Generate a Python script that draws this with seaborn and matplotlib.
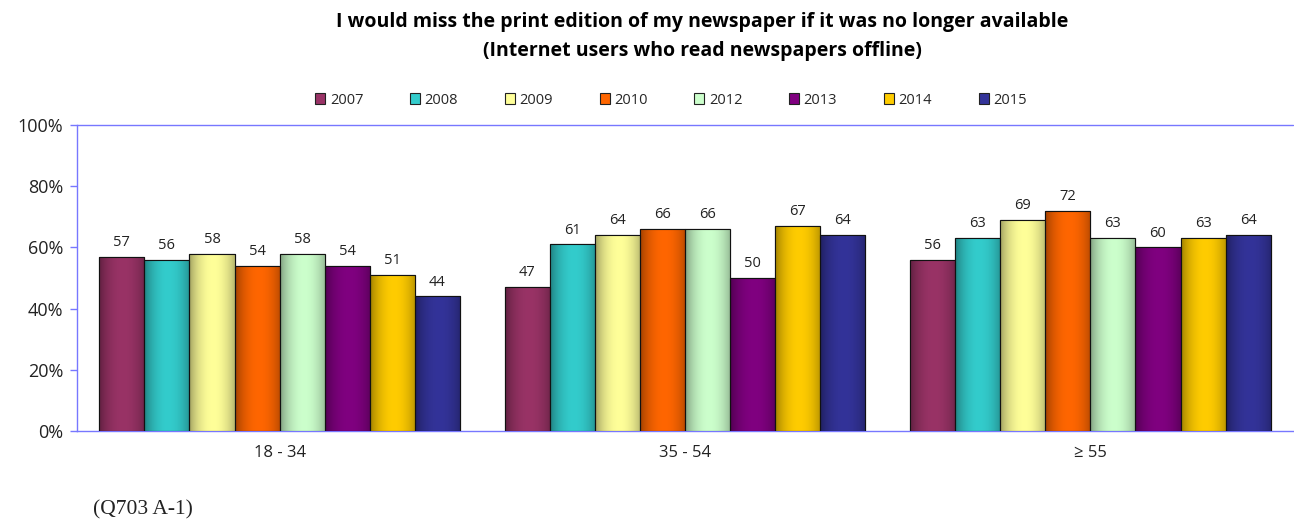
import numpy as np
import pandas as pd
import matplotlib
matplotlib.use("Agg")
import matplotlib.pyplot as plt
import seaborn as sns
from matplotlib.colors import to_rgb
from matplotlib.patches import Rectangle, Patch

groups = ["18 - 34", "35 - 54", "≥ 55"]
years = ["2007", "2008", "2009", "2010", "2012", "2013", "2014", "2015"]
v_18_34 = [57, 56, 58, 54, 58, 54, 51, 44]
v_35_54 = [47, 61, 64, 66, 66, 50, 67, 64]
v_55 = [56, 63, 69, 72, 63, 60, 63, 64]
colors = ["#993366", "#33CCCC", "#FFFF99", "#FF6600", "#CCFFCC", "#800080", "#FFCC00", "#333399"]

rows = []
for g, vals in zip(groups, [v_18_34, v_35_54, v_55]):
    for y, v in zip(years, vals):
        rows.append({"group": g, "year": y, "value": v})
df = pd.DataFrame(rows)

sns.set_style("white")
plt.rcParams['font.family'] = ['Open Sans', 'DejaVu Sans']

fig = plt.figure(figsize=(12.94, 5.23), dpi=100)
ax = fig.add_axes([77/1294, 1 - 431/523, (1293-77)/1294, (431-125)/523])

sns.barplot(data=df, x="group", y="value", hue="year", hue_order=years,
            palette=colors, width=0.89, ax=ax, edgecolor="black", linewidth=0.8,
            saturation=1, legend=False, zorder=3)

# gradient shading on bars
prof_x = np.linspace(0, 1, 64)
prof = 0.45 + 0.55 * np.clip(np.sin(np.pi * (prof_x * 0.85 + 0.05)) ** 0.6, 0, 1)
bars = list(ax.patches)
for p in bars:
    x0, y0 = p.get_x(), p.get_y()
    w, h = p.get_width(), p.get_height()
    if h <= 0:
        continue
    c = np.array(to_rgb(p.get_facecolor()))
    img = np.clip(c[None, None, :] * prof[None, :, None], 0, 1)
    im = ax.imshow(img, extent=[x0, x0 + w, y0, y0 + h], aspect="auto",
                   zorder=3.5, interpolation="bilinear")
    im.set_clip_path(p)
    ax.text(x0 + w / 2, h + 2.2, f"{int(round(h))}", ha="center", va="bottom",
            fontsize=10.5, color="#222222", zorder=5)
    ax.add_patch(Rectangle((x0, y0), w, h, fill=False, edgecolor="#111111",
                           linewidth=0.8, zorder=4))
ax.set_xlim(-0.5, 2.5)
ax.set_ylim(0, 100)

blue = "#7777FF"
ax.set_yticks([0, 20, 40, 60, 80, 100])
ax.set_yticklabels(["0%", "20%", "40%", "60%", "80%", "100%"], fontsize=13, color="#222222")
ax.tick_params(axis="y", left=True, direction="out", length=5, color=blue, width=1, pad=5)
ax.tick_params(axis="x", bottom=False, length=0, pad=10, labelsize=12, labelcolor="#222222")
ax.set_xlabel("")
ax.set_ylabel("")
for s in ["top", "right"]:
    ax.spines[s].set_visible(False)
for s in ["left", "bottom"]:
    ax.spines[s].set_color(blue)
    ax.spines[s].set_linewidth(1)
ax.axhline(100, color=blue, linewidth=1, zorder=2, clip_on=False)

# legend
handles = [Patch(facecolor=c, edgecolor="#222222", linewidth=0.8) for c in colors]
fig.legend(handles, years, loc="center", bbox_to_anchor=(671/1294, 1 - 100/523),
           ncol=8, frameon=False, fontsize=10.5, handlelength=0.7, handleheight=0.7,
           handletextpad=0.3, columnspacing=3.2)

fig.text(702/1294, 1 - 22/523, "I would miss the print edition of my newspaper if it was no longer available",
         ha="center", va="center", fontsize=14, fontweight="bold", color="black")
fig.text(702/1294, 1 - 51/523, "(Internet users who read newspapers offline)",
         ha="center", va="center", fontsize=14, fontweight="bold", color="black")
fig.text(93/1294, 1 - 510/523, "(Q703 A-1)", ha="left", va="center", fontsize=15.5,
         family="Liberation Serif", color="#222222")

fig.savefig("out.png", dpi=100)
